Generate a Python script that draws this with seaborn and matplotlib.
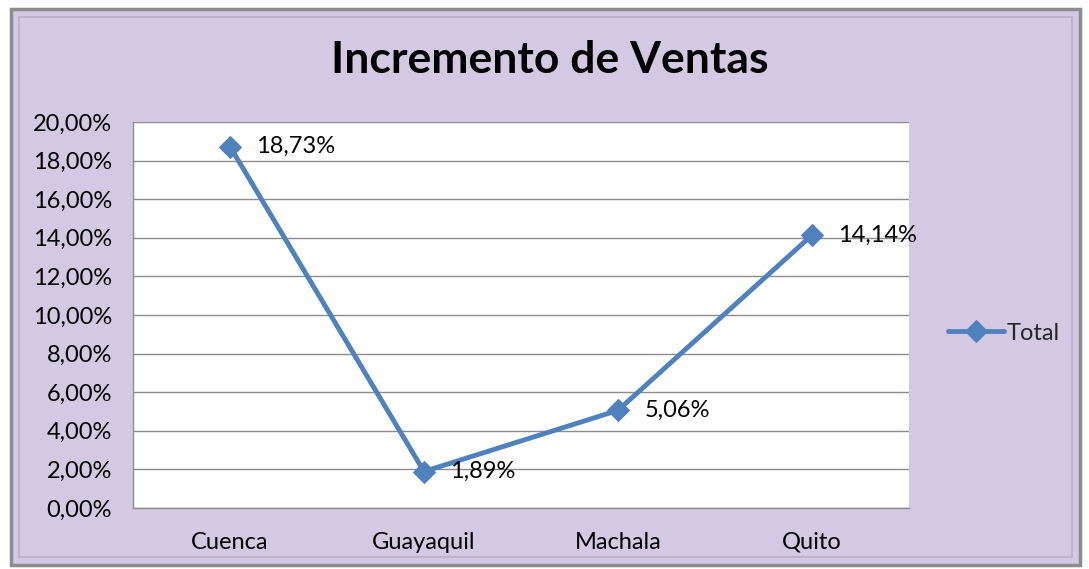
import numpy as np
import pandas as pd
import seaborn as sns
import matplotlib.pyplot as plt
from matplotlib.patches import Rectangle
from matplotlib.ticker import FuncFormatter

ciudades = ['Cuenca', 'Guayaquil', 'Machala', 'Quito']
incremento = [0.1873, 0.0189, 0.0506, 0.1414]
etiquetas = ['18,73%', '1,89%', '5,06%', '14,14%']

df = pd.DataFrame({'Ciudad': ciudades, 'Total': incremento})

sns.set_style('white')
plt.rcParams['font.family'] = ['Lato', 'DejaVu Sans']

fondo = '#D3C9E2'
azul = '#4F81BD'

fig = plt.figure(figsize=(10.89, 5.69), dpi=100)
fig.patch.set_facecolor('white')
# marco exterior del grafico
fig.patches.append(Rectangle((11 / 1089, 4 / 569), 1069 / 1089, 556 / 569,
                             transform=fig.transFigure, facecolor=fondo,
                             edgecolor='#8C8C8C', linewidth=2.5, zorder=-2))
fig.patches.append(Rectangle((19 / 1089, 12 / 569), 1053 / 1089, 540 / 569,
                             transform=fig.transFigure, facecolor='none',
                             edgecolor='#BDB3CC', linewidth=1.5, zorder=-1))

ax = fig.add_axes([133 / 1089, 1 - 508 / 569, 776 / 1089, 386 / 569])
ax.set_facecolor('white')

sns.lineplot(data=df, x='Ciudad', y='Total', marker='D', markersize=11,
             color=azul, linewidth=3.5, markeredgecolor=azul, ax=ax,
             label='Total', zorder=3)

for i, (v, t) in enumerate(zip(incremento, etiquetas)):
    ax.annotate(t, (i, v), xytext=(19, 0), textcoords='offset points',
                ha='left', va='center', fontsize=17, color='black', zorder=4)

ax.set_xlim(-0.5, 3.5)
ax.set_ylim(0, 0.20)
ax.set_yticks(np.arange(0, 0.201, 0.02))
ax.yaxis.set_major_formatter(FuncFormatter(lambda y, p: f'{y*100:.2f}%'.replace('.', ',')))
ax.grid(axis='y', color='#8C8C8C', linewidth=1)
ax.set_axisbelow(True)
for s in ['top', 'right']:
    ax.spines[s].set_visible(False)
for s in ['left', 'bottom']:
    ax.spines[s].set_color('#8C8C8C')
    ax.spines[s].set_linewidth(1)
ax.tick_params(axis='both', labelsize=17, length=0, colors='black')
ax.tick_params(axis='x', pad=17)
ax.tick_params(axis='y', pad=15)
ax.set_xlabel('')
ax.set_ylabel('')

leg = ax.legend(loc='center left', bbox_to_anchor=(1.05, 0.453), frameon=False,
                fontsize=17, handlelength=2.4, handletextpad=0.1,
                borderaxespad=0, borderpad=0)

fig.text(550 / 1089, 1 - 60 / 569, 'Incremento de Ventas', ha='center',
         va='center', fontsize=32, fontweight='bold', color='black')

fig.savefig('out.png', dpi=100, facecolor=fig.get_facecolor())
